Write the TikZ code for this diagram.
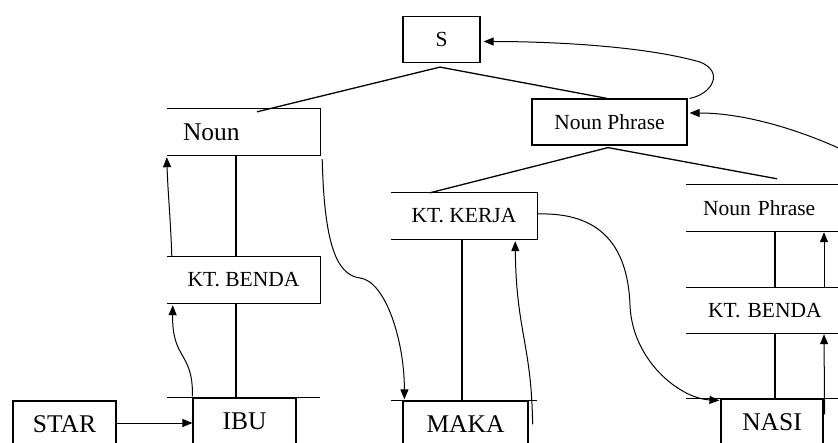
\documentclass[tikz,border=0pt]{standalone}
\usepackage{fontspec}
\setmainfont{Liberation Serif}
\usetikzlibrary{arrows.meta,calc}
\tikzset{
  fullbox/.style={draw, line width=1.2pt, minimum height=46pt, inner sep=0pt},
  openbox/.style={minimum height=46pt, inner sep=0pt},
  bigtxt/.style={font=\fontsize{25.5}{28}\selectfont},
  smalltxt/.style={font=\fontsize{21.5}{24}\selectfont},
  tree/.style={line width=1.3pt},
  link/.style={line width=1pt, -{Triangle[length=10pt,width=8pt]}},
}
\begin{document}
\begin{tikzpicture}[x=1pt,y=-1pt]
\useasboundingbox (0,0) rectangle (838,443);
\fill[white] (0,0) rectangle (838,443);
\clip (0,0) rectangle (838,443);

% nodes
\node[fullbox, smalltxt, minimum width=77pt] (s) at (441.5,39.5) {S};
\node[fullbox, smalltxt, minimum width=155pt] (np1) at (609.5,122) {Noun Phrase};
\node[openbox, bigtxt, text width=121pt, inner xsep=16pt, align=left] (noun) at (243.5,132) {Noun};
\node[openbox, smalltxt, minimum width=153pt] (ktb1) at (243.5,280) {KT. BENDA};
\node[openbox, smalltxt, minimum width=146pt] (ktk) at (464,216) {KT. KERJA};
\node[openbox, smalltxt, text width=130pt, inner xsep=17pt, align=left] (np2) at (768,208) {Noun Phrase};
\node[openbox, smalltxt, minimum height=45pt, text width=120pt, inner xsep=22pt, align=left] (ktb2) at (768,310.5) {KT. BENDA};
\node[fullbox, bigtxt, minimum width=103pt] (star) at (64.5,424) {STAR};
\node[fullbox, bigtxt, minimum width=103pt] (ibu) at (244.5,421) {IBU};
\node[fullbox, bigtxt, minimum width=125pt] (maka) at (465.5,424) {MAKA};
\node[fullbox, bigtxt, minimum width=102pt] (nasi) at (772,422) {NASI};

% open boxes: top, right, bottom
\foreach \b in {noun,ktb1,ktk,np2,ktb2}{
  \draw[tree] (\b.north west) -- (\b.north east) -- (\b.south east) -- (\b.south west);
}
% rules above the word boxes
\draw[tree] (noun.west |- ibu.north) -- (noun.east |- ibu.north);
\draw[tree] (ktk.west |- maka.north) -- (ktk.east |- maka.north);
\draw[tree] (np2.west |- nasi.north) -- (np2.east |- nasi.north);

% verticals
\draw[tree] ($(noun.south)+(-7.5,0)$) -- ($(ktb1.north)+(-7.5,0)$);
\draw[tree] ($(ktb1.south)+(-7.5,0)$) -- ($(ktb1.south |- ibu.north)+(-7.5,0)$);
\draw[tree] ($(ktk.south)+(-2,0)$) -- ($(ktk.south |- maka.north)+(-2,0)$);
\draw[tree] ($(np2.south)+(7,0)$) -- ($(ktb2.north)+(7,0)$);
\draw[tree] ($(ktb2.south)+(7,0)$) -- ($(ktb2.south |- nasi.north)+(7,0)$);

% tree branches
\coordinate (sfork) at ($(s.south)+(-1.5,4)$);
\draw[tree] ($(noun.north)+(13.5,3)$) -- (sfork) -- ($(np1.north)+(-2.5,0)$);
\coordinate (npfork) at ($(np1.south)+(-1.5,2)$);
\draw[tree] ($(ktk.north)+(-34,0)$) -- (npfork) -- ($(np2.north)+(9,-6)$);

% STAR -> IBU
\draw[link] ($(star.east)+(0,-1)$) -- ($(star.east -| ibu.west)+(0,-1)$);

% curved arrows
\draw[link] ($(ibu.north west)+(0,-1)$) .. controls +(1,-45) and +(-1,55) .. ($(ktb1.south west)+(6,2)$);
\draw[link] ($(ktb1.north west)+(5,0)$) .. controls +(-1,-35) and +(1,35) .. ($(noun.south west)+(0,2)$);
\draw[link] ($(noun.south east)+(2,4)$) .. controls +(2,80) and +(-25,-3) .. (360,278) .. controls +(25,3) and +(0,-60) .. ($(maka.north west)+(2,-1)$);
\draw[link] ($(maka.north east)+(4,24)$) .. controls +(-1,-80) and +(1,90) .. ($(ktk.south east)+(-22,2)$);
\draw[link] ($(ktk.east)+(1,-2)$) .. controls +(70,-2) and +(-2,-50) .. (630,305) .. controls +(2,55) and +(-40,-2) .. ($(nasi.north west)+(-1,2)$);
\draw[link] ($(nasi.north east)+(1,16)$) -- ($(ktb2.south)+(56,1)$);
\draw[link] ($(ktb2.north)+(56,0)$) -- ($(np2.south)+(56,1)$);
\coordinate (npin) at (845,151);
\draw[link] (npin) .. controls (800,130) and (745,113) .. ($(np1.east)+(2,-9)$);
\draw[link] ($(np1.north east)+(2,0)$) .. controls +(22,-4) and +(25,10) .. (700,62) .. controls +(-60,-17) and +(60,0) .. ($(s.east)+(3,2)$);
\end{tikzpicture}
\end{document}
